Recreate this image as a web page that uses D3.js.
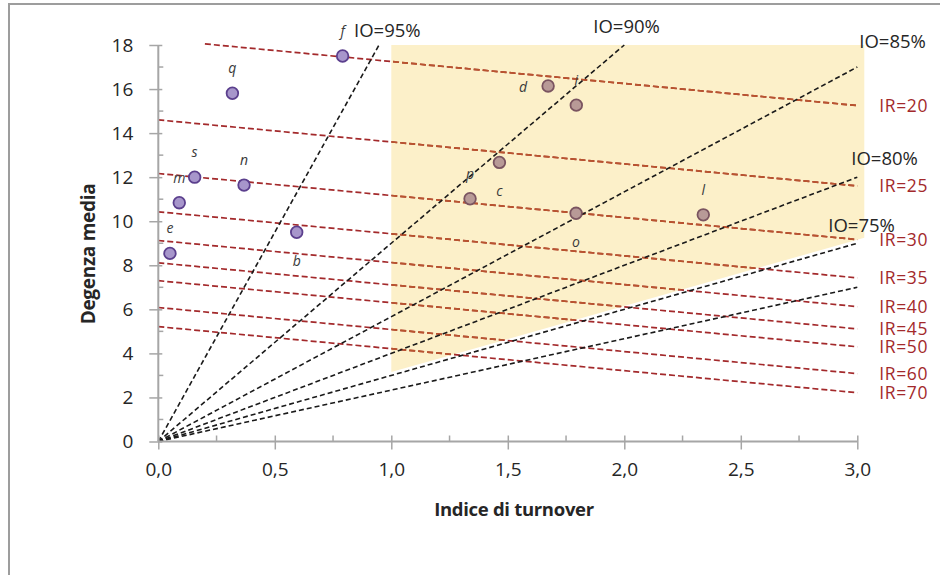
<!DOCTYPE html>
<html>
<head>
<meta charset="utf-8">
<script src="https://cdn.jsdelivr.net/npm/d3@7"></script>
<style>
  html, body { margin: 0; padding: 0; background: #fff; }
  svg { display: block; }
  text { font-family: "Open Sans", "Liberation Sans", sans-serif; }
</style>
</head>
<body>
<div id="chart"></div>
<script>
// ---------- data ----------
const xTicks = [0, 0.5, 1.0, 1.5, 2.0, 2.5, 3.0];
const yTicks = [0, 2, 4, 6, 8, 10, 12, 14, 16, 18];

// reparti (points)
const pointNames = ["f", "q", "s", "n", "m", "e", "b", "d", "i", "c", "p", "o", "l"];
const pointX     = [0.791, 0.318, 0.156, 0.368, 0.090, 0.050, 0.594, 1.673, 1.794, 1.464, 1.338, 1.793, 2.339];
const pointY     = [17.50, 15.81, 12.00, 11.64, 10.84, 8.54, 9.50, 16.14, 15.27, 12.67, 11.02, 10.36, 10.29];
const pointGroup = ["out", "out", "out", "out", "out", "out", "out", "in", "in", "in", "in", "in", "in"];
const labelSide  = ["above", "above", "above", "above", "above", "above", "below", "left", "above", "below", "above", "below", "above"];

// isolines of occupancy index (IO): degenza = IO/(1-IO) * turnover
const ioLevels = [0.95, 0.90, 0.85, 0.80, 0.75, 0.70];
const ioLabels = ["IO=95%", "IO=90%", "IO=85%", "IO=80%", "IO=75%", ""];

// isolines of rotation index (IR): degenza + turnover = 365/IR
const irLevels = [20, 25, 30, 35, 40, 45, 50, 60, 70];

// shaded "efficient" area
const areaX    = [1.0, 3.03];
const areaLow  = [3.15, 9.25];
const areaHigh = [18, 18];

// ---------- layout ----------
const W = 940, H = 575;
const X0 = 158.3, X1 = 857.3, Y0 = 441.5, Y1 = 45;

const svg = d3.select("#chart").append("svg").attr("width", W).attr("height", H);

const x = d3.scaleLinear().domain([0, 3]).range([X0, X1]);
const y = d3.scaleLinear().domain([0, 18]).range([Y0, Y1]);

// outer frame
svg.append("path")
  .attr("d", `M9,${H} L9,4 L${W},4`)
  .attr("fill", "none").attr("stroke", "#9d9d9d").attr("stroke-width", 2);

// shaded area
const areaData = areaX.map((v, i) => ({x: v, lo: areaLow[i], hi: areaHigh[i]}));
const areaGen = d3.area().x(d => x(d.x)).y0(d => y(d.lo)).y1(d => y(d.hi));
svg.append("path").datum(areaData).attr("d", areaGen).attr("fill", "#fcf0c9");

svg.append("clipPath").attr("id", "areaClip")
  .append("path").datum(areaData).attr("d", areaGen);

// IR lines
const irData = irLevels.map(r => {
  const c = 365 / r;
  const xs = Math.max(0, c - 18.05);
  return {r, pts: [[xs, c - xs], [3, c - 3]]};
});
const lineGen = d3.line().x(d => x(d[0])).y(d => y(d[1]));

const irG = svg.append("g");
irG.selectAll("path").data(irData).join("path")
  .attr("d", d => lineGen(d.pts))
  .attr("fill", "none").attr("stroke", "#a3292b")
  .attr("stroke-width", 1.7).attr("stroke-dasharray", "6,3");
svg.append("g").attr("clip-path", "url(#areaClip)")
  .selectAll("path").data(irData).join("path")
  .attr("d", d => lineGen(d.pts))
  .attr("fill", "none").attr("stroke", "#b9552e")
  .attr("stroke-width", 1.7).attr("stroke-dasharray", "6,3");

irG.selectAll("text").data(irData).join("text")
  .attr("x", d => x(3) + 22)
  .attr("y", d => y(d.pts[1][1]))
  .attr("dy", "0.35em")
  .attr("font-size", 17.5)
  .attr("letter-spacing", 0.6)
  .attr("fill", "#a3292b")
  .text(d => "IR=" + d.r);

// IO lines
const ioData = ioLevels.map((p, i) => {
  const k = p / (1 - p);
  const xe = Math.min(3, 18 / k);
  return {p, label: ioLabels[i], pts: [[0, 0], [xe, k * xe]]};
});
const ioG = svg.append("g");
ioG.selectAll("path").data(ioData).join("path")
  .attr("d", d => lineGen(d.pts))
  .attr("fill", "none").attr("stroke", "#1a1a1a")
  .attr("stroke-width", 1.6).attr("stroke-dasharray", "5,3");

// label offsets relative to line end (pixels)
const ioLabelOffset = {
  "IO=95%": [-25, -14, "start"],
  "IO=90%": [-31, -18, "start"],
  "IO=85%": [2, -26, "start"],
  "IO=80%": [-6, -19, "start"],
  "IO=75%": [-29, -18, "start"]
};
ioG.selectAll("text").data(ioData.filter(d => d.label)).join("text")
  .attr("x", d => x(d.pts[1][0]) + ioLabelOffset[d.label][0])
  .attr("y", d => y(d.pts[1][1]) + ioLabelOffset[d.label][1])
  .attr("dy", "0.35em")
  .attr("text-anchor", d => ioLabelOffset[d.label][2])
  .attr("font-size", 18.5)
  .attr("fill", "#262626")
  .text(d => d.label);

// axes
const axisColor = "#a6a6a6";
const axG = svg.append("g");
// minor ticks
const yMinor = d3.range(1, 18, 2);
axG.selectAll("line.ymin").data(yMinor).join("line")
  .attr("x1", X0).attr("x2", X0 + 5).attr("y1", d => y(d)).attr("y2", d => y(d))
  .attr("stroke", axisColor).attr("stroke-width", 1.5);
const xMinor = [0.25, 0.75, 1.25, 1.75, 2.25, 2.75];
axG.selectAll("line.xmin").data(xMinor).join("line")
  .attr("x1", d => x(d)).attr("x2", d => x(d)).attr("y1", Y0).attr("y2", Y0 - 6)
  .attr("stroke", axisColor).attr("stroke-width", 1.5);

const yAxis = d3.axisLeft(y).tickValues(yTicks).tickSize(9).tickPadding(16)
  .tickFormat(d3.format("d"));
const yG = svg.append("g").attr("transform", `translate(${X0},0)`).call(yAxis);
const xAxis = d3.axisBottom(x).tickValues(xTicks).tickSize(8).tickPadding(13)
  .tickFormat(d => d3.format(".1f")(d).replace(".", ","));
const xG = svg.append("g").attr("transform", `translate(0,${Y0})`).call(xAxis);

[yG, xG].forEach(g => {
  g.select(".domain").attr("stroke", axisColor).attr("stroke-width", 2);
  g.selectAll(".tick line").attr("stroke", axisColor).attr("stroke-width", 1.5);
  g.selectAll(".tick text").attr("font-size", 19).attr("fill", "#262626")
    .attr("font-family", "'Open Sans', sans-serif");
});
yG.selectAll(".tick line").attr("x2", -9).attr("x1", 4);
xG.selectAll(".tick line").attr("y1", -6).attr("y2", 8);
yG.select(".domain").attr("d", `M0,${Y0}V${Y1}`);
xG.select(".domain").attr("d", `M${X0},0H${X1}`);

// axis titles
svg.append("text")
  .attr("x", 514).attr("y", 510).attr("dy", "0.35em")
  .attr("text-anchor", "middle").attr("font-size", 18.5).attr("font-weight", "bold")
  .attr("fill", "#262626").attr("letter-spacing", -0.3)
  .text("Indice di turnover");
svg.append("text")
  .attr("transform", "translate(88,254) rotate(-90)").attr("dy", "0.35em")
  .attr("text-anchor", "middle").attr("font-size", 19).attr("font-weight", "bold")
  .attr("fill", "#262626").attr("letter-spacing", -0.3)
  .text("Degenza media");

// points
const pts = pointNames.map((n, i) => ({n, x: pointX[i], y: pointY[i], g: pointGroup[i], side: labelSide[i]}));
const ptG = svg.append("g");
ptG.selectAll("circle").data(pts).join("circle")
  .attr("cx", d => x(d.x)).attr("cy", d => y(d.y)).attr("r", 5.8)
  .attr("fill", d => d.g === "out" ? "#a796cb" : "#b89a97")
  .attr("stroke", d => d.g === "out" ? "#5b3f8d" : "#7a5460")
  .attr("stroke-width", 1.8);

const sideOffset = {above: [0, -25], below: [0, 29], left: [-25, 1]};
ptG.selectAll("text").data(pts).join("text")
  .attr("x", d => x(d.x) + sideOffset[d.side][0])
  .attr("y", d => y(d.y) + sideOffset[d.side][1])
  .attr("dy", "0.35em").attr("text-anchor", "middle")
  .attr("font-size", 14).attr("font-style", "italic").attr("fill", "#3a3a3a")
  .text(d => d.n);
</script>
</body>
</html>
